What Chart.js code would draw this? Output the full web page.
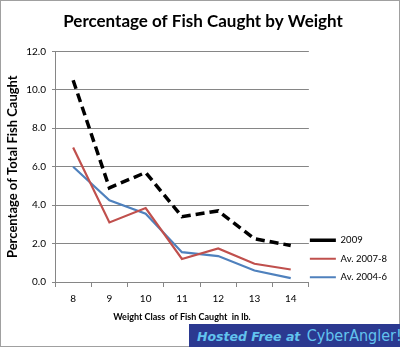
<!DOCTYPE html>
<html>
<head>
<meta charset="utf-8">
<script src="https://cdn.jsdelivr.net/npm/chart.js@4.4.1/dist/chart.umd.min.js"></script>
<style>
    html, body { margin: 0; padding: 0; background: #fff; }
    #wrap { position: relative; width: 400px; height: 347px; box-sizing: border-box; border: 1px solid #a0a0a0; }
    #wrap canvas { display: block; }
    #banner {
        position: absolute; left: 188px; top: 323px; width: 212px; height: 24px;
        background: #2b3990; color: #62c3ee; font-family: "DejaVu Sans", sans-serif;
        font-size: 12.5px; font-weight: bold; font-style: italic; line-height: 24px;
        padding-left: 8px; box-sizing: border-box; white-space: nowrap; overflow: hidden;
    }
    #banner span { font-family: "DejaVu Sans Condensed", "DejaVu Sans", sans-serif; font-style: normal; font-weight: normal; font-size: 16px; margin-left: 2px; }
</style>
</head>
<body>
<div id="wrap">
    <canvas id="grafico" width="398" height="345"></canvas>
    <div id="banner">Hosted Free at <span>CyberAngler!</span></div>
</div>
<script>
    // classes de peso (lb)
    const pesos = ['8', '9', '10', '11', '12', '13', '14'];

    // percentuais
    const ano2009 = [10.5, 4.9, 5.7, 3.4, 3.7, 2.25, 1.9];
    const media2007_8 = [7.0, 3.1, 3.85, 1.2, 1.75, 0.95, 0.65];
    const media2004_6 = [6.0, 4.25, 3.55, 1.55, 1.35, 0.6, 0.2];

    const ticksY = [0, 2, 4, 6, 8, 10, 12];

    const fonte = "Lato, 'Open Sans', sans-serif";

    // desloca a legenda para baixo e para a esquerda (como no original)
    const ajusteLegenda = {
        id: 'ajusteLegenda',
        afterLayout(chart) {
            chart.legend.top += 9;
            chart.legend.bottom += 9;
            chart.legend.left -= 8;
            chart.legend.right -= 8;
        }
    };

    var ctx = document.getElementById('grafico').getContext('2d');

    var grafico = new Chart(ctx, {
        type: 'line',
        data: {
            labels: pesos,
            datasets: [
                {
                    label: '2009',
                    data: ano2009,
                    borderColor: '#000000',
                    backgroundColor: '#000000',
                    borderWidth: 3.5,
                    borderDash: [9, 5],
                    pointRadius: 0,
                    tension: 0
                },
                {
                    label: 'Av. 2007-8',
                    data: media2007_8,
                    borderColor: '#c0504d',
                    backgroundColor: '#c0504d',
                    borderWidth: 2.2,
                    pointRadius: 0,
                    tension: 0
                },
                {
                    label: 'Av. 2004-6',
                    data: media2004_6,
                    borderColor: '#4f81bd',
                    backgroundColor: '#4f81bd',
                    borderWidth: 2.2,
                    pointRadius: 0,
                    tension: 0
                }
            ]
        },
        plugins: [ajusteLegenda],
        options: {
            responsive: false,
            animation: false,
            layout: { padding: { left: 0, right: -6, top: 4, bottom: 14 } },
            plugins: {
                title: {
                    display: true,
                    text: 'Percentage of Fish Caught by Weight',
                    color: '#000',
                    font: { family: fonte, size: 17, weight: 'bold' },
                    padding: { top: 6, bottom: 20 }
                },
                legend: {
                    position: 'right',
                    align: 'end',
                    fullSize: false,
                    labels: {
                        usePointStyle: true,
                        pointStyle: 'line',
                        pointStyleWidth: 26,
                        boxHeight: 10,
                        padding: 9,
                        color: '#000',
                        font: { family: fonte, size: 9.5 }
                    }
                },
                tooltip: { enabled: false }
            },
            scales: {
                x: {
                    offset: true,
                    grid: {
                        offset: true,
                        drawOnChartArea: false,
                        tickLength: 5,
                        color: '#868686'
                    },
                    border: { color: '#868686' },
                    ticks: {
                        color: '#000',
                        padding: 6,
                        font: { family: fonte, size: 10 }
                    },
                    title: {
                        display: true,
                        text: 'Weight Class  of Fish Caught  in lb.',
                        color: '#000',
                        font: { family: fonte, size: 9, weight: 'bold' },
                        padding: { top: 8, bottom: 10 }
                    },
                    afterFit: function (scale) { scale.height = 50; }
                },
                y: {
                    min: 0,
                    max: 12,
                    afterBuildTicks: function (scale) {
                        scale.ticks = ticksY.map(v => ({ value: v }));
                    },
                    grid: { color: '#868686', tickLength: 3 },
                    border: { color: '#868686' },
                    ticks: {
                        color: '#000',
                        padding: 6,
                        font: { family: fonte, size: 10 },
                        callback: function (v) { return Number(v).toFixed(1); }
                    },
                    title: {
                        display: true,
                        text: 'Percentage of Total Fish Caught',
                        color: '#000',
                        font: { family: fonte, size: 13, weight: 'bold' },
                        padding: { bottom: 4 }
                    },
                    afterFit: function (scale) { scale.width = 54; }
                }
            }
        }
    });
</script>
</body>
</html>
